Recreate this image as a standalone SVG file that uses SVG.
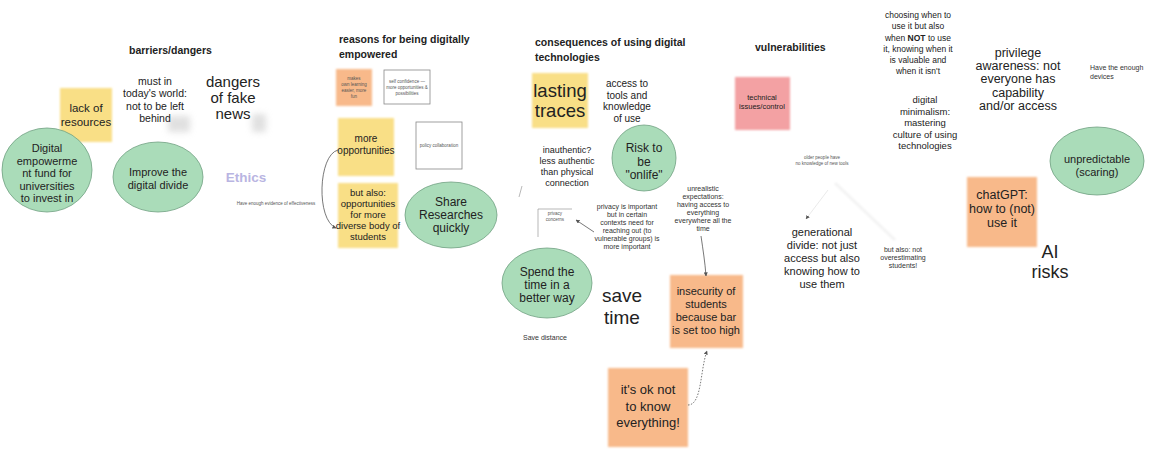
<svg xmlns="http://www.w3.org/2000/svg" width="1168" height="474" viewBox="0 0 1168 474">
  <defs>
    <filter id="soft" x="-20%" y="-20%" width="140%" height="140%">
      <feGaussianBlur stdDeviation="1.2"/>
    </filter>
    <filter id="haze" x="-50%" y="-50%" width="200%" height="200%">
      <feGaussianBlur stdDeviation="3"/>
    </filter>
    <marker id="arrow" viewBox="0 0 10 10" refX="9" refY="5" markerWidth="5" markerHeight="5" orient="auto">
      <path d="M0,0 L10,5 L0,10 z" fill="#555"/>
    </marker>
  </defs>
  <style>
    text { font-family: "Liberation Sans", Arial, sans-serif; fill: #222; text-anchor: middle; }
    .head { font-weight: bold; font-size: 10.5px; text-anchor: start; }
    .yellow { fill: #f9df86; }
    .orange { fill: #f8b98a; }
    .pink { fill: #f3a1a3; }
    .bubble { fill: #aadcb9; stroke: #6f9f80; stroke-width: 0.8; }
    .card { fill: #fff; stroke: #888; stroke-width: 0.8; }
    .tiny { font-size: 4.5px; fill: #555; }
    .small { font-size: 7px; fill: #333; }
    .link { fill: none; stroke: #555; stroke-width: 0.8; }
  </style>
  <rect width="1168" height="474" fill="#fff"/>

  <!-- column headings -->
  <g id="headings">
    <text class="head" x="129" y="54">barriers/dangers</text>
    <text class="head" x="339" y="43">reasons for being digitally</text>
    <text class="head" x="339" y="58">empowered</text>
    <text class="head" x="535" y="46">consequences of using digital</text>
    <text class="head" x="535" y="61">technologies</text>
    <text class="head" x="755" y="51">vulnerabilities</text>
  </g>

  <!-- barriers / dangers -->
  <g id="lack-of-resources">
    <rect class="yellow" x="60" y="88" width="52" height="54" filter="url(#soft)"/>
    <text x="86" y="112" font-size="11.5">lack of</text>
    <text x="86" y="126" font-size="11.5">resources</text>
  </g>
  <g id="empowerment-fund">
    <ellipse class="bubble" cx="47" cy="170" rx="45" ry="42"/>
    <text x="47" y="152" font-size="11">Digital</text>
    <text x="47" y="165" font-size="11">empowerme</text>
    <text x="47" y="177" font-size="11">nt fund for</text>
    <text x="47" y="190" font-size="11">universities</text>
    <text x="47" y="202" font-size="11">to invest in</text>
  </g>
  <g id="digital-divide">
    <ellipse class="bubble" cx="158" cy="177" rx="45" ry="35"/>
    <text x="158" y="176" font-size="11">Improve the</text>
    <text x="158" y="189" font-size="11">digital divide</text>
  </g>
  <g id="left-behind">
    <rect x="168" y="116" width="22" height="16" fill="#ccc" filter="url(#haze)" opacity="0.6"/>
    <text x="155" y="85" font-size="10.5">must in</text>
    <text x="155" y="97" font-size="10.5">today's world:</text>
    <text x="155" y="110" font-size="10.5">not to be left</text>
    <text x="155" y="122" font-size="10.5">behind</text>
  </g>
  <g id="fake-news">
    <rect x="252" y="114" width="14" height="18" fill="#ccc" filter="url(#haze)" opacity="0.6"/>
    <text x="233" y="87" font-size="15">dangers</text>
    <text x="233" y="103" font-size="15">of fake</text>
    <text x="233" y="119" font-size="15">news</text>
  </g>
  <g id="ethics">
    <text x="246" y="182" font-size="13.5" font-weight="bold" style="fill:#b9b5e2">Ethics</text>
  </g>
  <g id="evidence">
    <text class="tiny" x="276" y="205">Have enough evidence of effectiveness</text>
  </g>

  <!-- reasons for being digitally empowered -->
  <g id="own-learning">
    <rect class="orange" x="336" y="69" width="36" height="37" filter="url(#soft)"/>
    <text class="tiny" x="354" y="80">makes</text>
    <text class="tiny" x="354" y="86">own learning</text>
    <text class="tiny" x="354" y="92">easier, more</text>
    <text class="tiny" x="354" y="98">fun</text>
  </g>
  <g id="self-confidence">
    <rect class="card" x="384" y="70" width="46" height="34"/>
    <text class="tiny" x="407" y="83">self confidence —</text>
    <text class="tiny" x="407" y="89">more opportunities &amp;</text>
    <text class="tiny" x="407" y="95">possibilities</text>
  </g>
  <g id="more-opportunities">
    <rect class="yellow" x="338" y="118" width="56" height="58" filter="url(#soft)"/>
    <text x="366" y="142" font-size="10">more</text>
    <text x="366" y="154" font-size="10">opportunities</text>
  </g>
  <g id="policy-collaboration">
    <rect class="card" x="416" y="122" width="46" height="47"/>
    <text class="tiny" x="439" y="147">policy collaboration</text>
  </g>
  <g id="diverse-students">
    <rect class="yellow" x="338" y="183" width="60" height="65" filter="url(#soft)"/>
    <text x="368" y="196" font-size="9.5">but also:</text>
    <text x="368" y="207" font-size="9.5">opportunities</text>
    <text x="368" y="218" font-size="9.5">for more</text>
    <text x="368" y="229" font-size="9.5">diverse body of</text>
    <text x="368" y="240" font-size="9.5">students</text>
  </g>
  <g id="share-researches">
    <ellipse class="bubble" cx="451" cy="215" rx="46" ry="33"/>
    <text x="451" y="206" font-size="12">Share</text>
    <text x="451" y="219" font-size="12">Researches</text>
    <text x="451" y="232" font-size="12">quickly</text>
  </g>

  <!-- consequences of using digital technologies -->
  <g id="lasting-traces">
    <rect class="yellow" x="532" y="73" width="56" height="55" filter="url(#soft)"/>
    <text x="560" y="97" font-size="18.5">lasting</text>
    <text x="560" y="117" font-size="18.5">traces</text>
  </g>
  <g id="access-tools">
    <text x="627" y="87" font-size="10">access to</text>
    <text x="627" y="99" font-size="10">tools and</text>
    <text x="627" y="110" font-size="10">knowledge</text>
    <text x="627" y="122" font-size="10">of use</text>
  </g>
  <g id="inauthentic">
    <text x="567" y="153" font-size="9">inauthentic?</text>
    <text x="567" y="164" font-size="9">less authentic</text>
    <text x="567" y="175" font-size="9">than physical</text>
    <text x="567" y="186" font-size="9">connection</text>
  </g>
  <g id="onlife">
    <ellipse class="bubble" cx="644" cy="158" rx="32" ry="33"/>
    <text x="644" y="152" font-size="12">Risk to</text>
    <text x="644" y="166" font-size="12">be</text>
    <text x="644" y="179" font-size="12">"onlife"</text>
  </g>
  <g id="privacy-concerns">
    <path d="M538,237 V209 H572" fill="none" stroke="#999" stroke-width="0.7"/>
    <text class="tiny" x="555" y="215">privacy</text>
    <text class="tiny" x="555" y="221">concerns</text>
  </g>
  <g id="privacy-important">
    <text class="small" x="627" y="209">privacy is important</text>
    <text class="small" x="627" y="217">but in certain</text>
    <text class="small" x="627" y="225">contexts need for</text>
    <text class="small" x="627" y="233">reaching out (to</text>
    <text class="small" x="627" y="241">vulnerable groups) is</text>
    <text class="small" x="627" y="249">more important</text>
  </g>
  <g id="unrealistic">
    <text class="small" x="703" y="191">unrealistic</text>
    <text class="small" x="703" y="199">expectations:</text>
    <text class="small" x="703" y="207">having access to</text>
    <text class="small" x="703" y="215">everything</text>
    <text class="small" x="703" y="223">everywhere all the</text>
    <text class="small" x="703" y="231">time</text>
  </g>
  <g id="spend-time">
    <ellipse class="bubble" cx="547" cy="283" rx="45" ry="35"/>
    <text x="547" y="276" font-size="12">Spend the</text>
    <text x="547" y="289" font-size="12">time in a</text>
    <text x="547" y="302" font-size="12">better way</text>
  </g>
  <g id="save-time">
    <text x="622" y="302" font-size="19">save</text>
    <text x="622" y="324" font-size="19">time</text>
  </g>
  <g id="save-distance">
    <text class="small" x="545" y="340">Save distance</text>
  </g>
  <g id="insecurity">
    <rect class="orange" x="670" y="275" width="73" height="73" filter="url(#soft)"/>
    <text x="706" y="295" font-size="11">insecurity of</text>
    <text x="706" y="308" font-size="11">students</text>
    <text x="706" y="321" font-size="11">because bar</text>
    <text x="706" y="334" font-size="11">is set too high</text>
  </g>
  <g id="ok-not-to-know">
    <rect class="orange" x="608" y="368" width="80" height="79" filter="url(#soft)"/>
    <text x="648" y="394" font-size="13">it's ok not</text>
    <text x="648" y="411" font-size="13">to know</text>
    <text x="648" y="427" font-size="13">everything!</text>
  </g>

  <!-- vulnerabilities -->
  <g id="technical-issues">
    <rect class="pink" x="735" y="77" width="55" height="53" filter="url(#soft)"/>
    <text x="762" y="100" font-size="7.5">technical</text>
    <text x="762" y="109" font-size="7.5">issues/control</text>
  </g>
  <g id="older-generation">
    <text class="tiny" x="822" y="159">older people have</text>
    <text class="tiny" x="822" y="165">no knowledge of new tools</text>
  </g>
  <g id="generational-divide">
    <text x="822" y="236" font-size="11">generational</text>
    <text x="822" y="249" font-size="11">divide: not just</text>
    <text x="822" y="262" font-size="11">access but also</text>
    <text x="822" y="275" font-size="11">knowing how to</text>
    <text x="822" y="288" font-size="11">use them</text>
  </g>
  <g id="overestimating">
    <text class="small" x="903" y="252">but also: not</text>
    <text class="small" x="903" y="260">overestimating</text>
    <text class="small" x="903" y="268">students!</text>
  </g>

  <!-- right-hand cluster -->
  <g id="choosing-when">
    <text x="918" y="18" font-size="8.5">choosing when to</text>
    <text x="918" y="29" font-size="8.5">use it but also</text>
    <text x="918" y="41" font-size="8.5">when <tspan font-weight="bold">NOT</tspan> to use</text>
    <text x="918" y="52" font-size="8.5">it, knowing when it</text>
    <text x="918" y="63" font-size="8.5">is valuable and</text>
    <text x="918" y="74" font-size="8.5">when it isn't</text>
  </g>
  <g id="digital-minimalism">
    <text x="925" y="103" font-size="9.5">digital</text>
    <text x="925" y="115" font-size="9.5">minimalism:</text>
    <text x="925" y="126" font-size="9.5">mastering</text>
    <text x="925" y="138" font-size="9.5">culture of using</text>
    <text x="925" y="149" font-size="9.5">technologies</text>
  </g>
  <g id="privilege-awareness">
    <text x="1018" y="57" font-size="12.5">privilege</text>
    <text x="1018" y="70" font-size="12.5">awareness: not</text>
    <text x="1018" y="83" font-size="12.5">everyone has</text>
    <text x="1018" y="97" font-size="12.5">capability</text>
    <text x="1018" y="110" font-size="12.5">and/or access</text>
  </g>
  <g id="enough-devices">
    <text class="small" x="1090" y="70" style="text-anchor:start">Have the enough</text>
    <text class="small" x="1090" y="79" style="text-anchor:start">devices</text>
  </g>
  <g id="unpredictable">
    <ellipse class="bubble" cx="1097" cy="161" rx="47" ry="34"/>
    <text x="1097" y="163" font-size="11">unpredictable</text>
    <text x="1097" y="176" font-size="11">(scaring)</text>
  </g>
  <g id="chatgpt">
    <rect class="orange" x="967" y="177" width="70" height="70" filter="url(#soft)"/>
    <text x="1002" y="199" font-size="12.5">chatGPT:</text>
    <text x="1002" y="213" font-size="12.5">how to (not)</text>
    <text x="1002" y="227" font-size="12.5">use it</text>
  </g>
  <g id="ai-risks">
    <text x="1050" y="258" font-size="18">AI</text>
    <text x="1050" y="278" font-size="18">risks</text>
  </g>

  <!-- connectors -->
  <g id="connectors">
    <path class="link" d="M338,150 C318,155 316,220 336,228" marker-end="url(#arrow)"/>
    <path class="link" d="M594,232 C588,228 582,224 576,220" marker-end="url(#arrow)"/>
    <path class="link" d="M701,236 C703,250 705,262 706,276" marker-end="url(#arrow)"/>
    <path class="link" d="M688,405 C702,405 700,370 707,351" stroke-dasharray="1.5,1.5" marker-end="url(#arrow)"/>
    <path d="M828,190 L806,219" fill="none" stroke="#e4e4e4" stroke-width="0.8" marker-end="url(#arrow)"/>
    <path d="M835,183 L895,240" fill="none" stroke="#f3f3f3" stroke-width="3" filter="url(#soft)"/>
    <path d="M522,186 L519,197" fill="none" stroke="#999" stroke-width="0.7"/>
  </g>
</svg>
